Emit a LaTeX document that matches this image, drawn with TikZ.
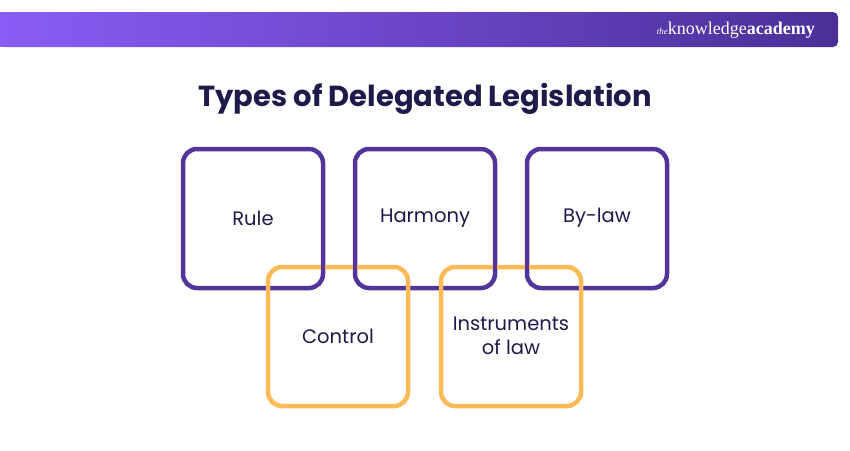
\documentclass[tikz,border=0pt]{standalone}
\usepackage{fontspec}
\setmainfont{Poppins}
\newfontfamily\logofont{Liberation Serif}
\definecolor{pur}{HTML}{52349B}
\definecolor{org}{HTML}{FDBB58}
\definecolor{ink}{HTML}{1E1A4A}
\definecolor{gl}{HTML}{8A5CF5}
\definecolor{gr}{HTML}{4A2F98}
\begin{document}
\begin{tikzpicture}[x=1pt,y=-1pt,
  box/.style={line width=4.5pt,rounded corners=14pt},
  lab/.style={font=\fontsize{19.5}{24}\selectfont,text=ink,align=center}]
\useasboundingbox (0,0) rectangle (850,450);
\fill[white] (0,0) rectangle (850,450);
\shade[left color=gl,right color=gr,rounded corners=5pt] (0,12) -- (838,12) -- (838,47) -- (0,47) -- cycle;
\fill[gl] (0,12) rectangle (6,47);
\node[text=white,anchor=east,inner sep=0] (logo) at (815,30) {\logofont{\fontsize{9}{10}\selectfont\itshape the}\fontsize{18}{20}\selectfont knowledge\textbf{academy}};
\node[font=\fontsize{29}{34}\selectfont\bfseries,text=ink] (title) at (425,99) {Types of Delegated Legislation};
\foreach \n/\x/\t in {rule/183/Rule,harm/355/Harmony,bylaw/527/By-law}{
  \draw[box,pur] (\x,149) rectangle (\x+140,288);
  \node[lab] (\n) at (\x+70,218) {\t};
}
\foreach \n/\x/\t in {ctrl/268/Control,inst/441/{Instruments\\of law}}{
  \draw[box,org] (\x,267) rectangle (\x+140,406);
  \node[lab] (\n) at (\x+70,336) {\t};
}
\foreach \x in {183,355,527}{
  \draw[pur,line width=4.5pt] (\x+140,255) -- (\x+140,276);
  \draw[pur,line width=4.5pt] (\x,255) -- (\x,276);
}
\end{tikzpicture}
\end{document}
